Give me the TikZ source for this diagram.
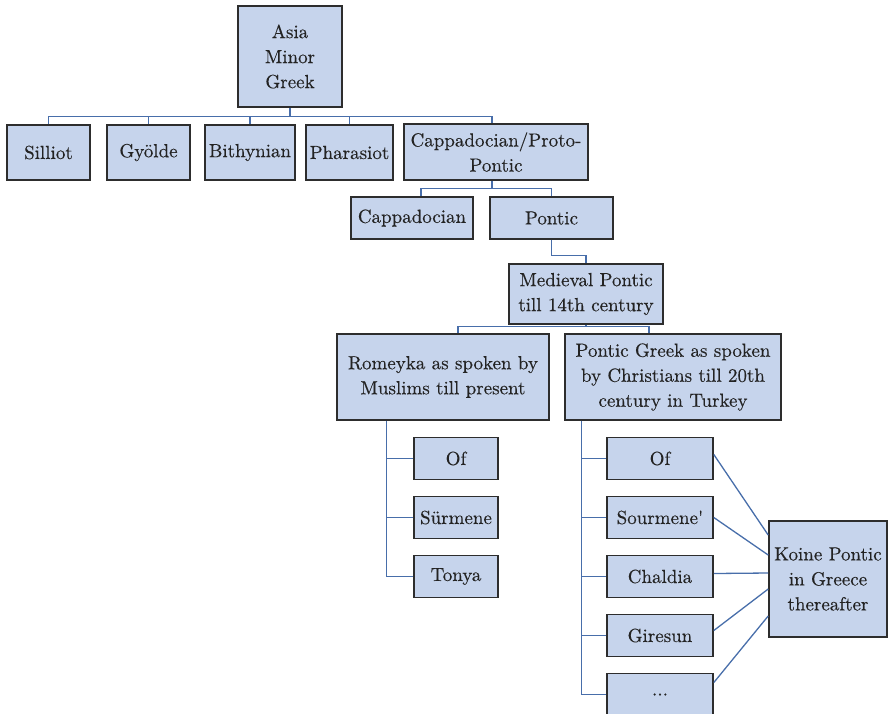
\documentclass[tikz,border=0pt]{standalone}
\usepackage{fontspec}
\newfontfamily\nodefont[FakeBold=0.3]{lmroman10-regular.otf}
\usetikzlibrary{calc}
\definecolor{boxfill}{RGB}{198,212,236}
\definecolor{boxline}{RGB}{45,45,45}
\definecolor{conn}{RGB}{72,110,170}
\definecolor{txt}{RGB}{35,35,35}
\begin{document}
\begin{tikzpicture}[x=1pt,y=-1pt,
  bx/.style={draw=boxline,line width=1.6pt,fill=boxfill,inner sep=0pt,align=center,
    text=txt,font=\nodefont\fontsize{19}{25}\selectfont},
  ln/.style={draw=conn,line width=1.3pt}]
\useasboundingbox (0,0) rectangle (891,713);
% level 0
\node[bx,minimum width=104,minimum height=101] (asia) at (290,56.5) {Asia\\Minor\\Greek};
% level 1
\node[bx,minimum width=83,minimum height=55] (silliot) at (48.5,152.5) {Silliot};
\node[bx,minimum width=83,minimum height=55] (gyolde) at (148.5,152.5) {Gyölde};
\node[bx,minimum width=90,minimum height=55] (bith) at (250,152.5) {Bithynian};
\node[bx,minimum width=87,minimum height=55] (phar) at (349.5,152.5) {Pharasiot};
\node[bx,minimum width=184,minimum height=56] (capp) at (496,152) {Cappadocian/Proto-\\Pontic};
% level 2
\node[bx,minimum width=122,minimum height=42] (cappad) at (412,218) {Cappadocian};
\node[bx,minimum width=123,minimum height=42] (pontic) at (551.5,218) {Pontic};
% level 3
\node[bx,minimum width=154,minimum height=60] (med) at (586,294) {Medieval Pontic\\till 14th century};
% level 4
\node[bx,minimum width=212,minimum height=86] (rom) at (443,377) {Romeyka as spoken by\\Muslims till present};
\node[bx,minimum width=216,minimum height=86] (pgr) at (673,377) {Pontic Greek as spoken\\by Christians till 20th\\century in Turkey};
% level 5 left
\node[bx,minimum width=84,minimum height=42] (ofa) at (456,458.5) {Of};
\node[bx,minimum width=84,minimum height=42] (sur) at (456,517.5) {Sürmene};
\node[bx,minimum width=84,minimum height=42] (ton) at (456,576.5) {Tonya};
% level 5 right
\node[bx,minimum width=106,minimum height=42] (ofb) at (660,458.5) {Of};
\node[bx,minimum width=106,minimum height=42] (sour) at (660,517.5) {Sourmene\char39};
\node[bx,minimum width=106,minimum height=42] (chal) at (660,576.5) {Chaldia};
\node[bx,minimum width=106,minimum height=42] (gir) at (660,635.5) {Giresun};
\node[bx,minimum width=106,minimum height=42] (dots) at (660,694.5) {...};
\node[bx,minimum width=118,minimum height=116] (koine) at (828,579) {Koine Pontic\\in Greece\\thereafter};
% connectors
\foreach \c in {silliot,gyolde,bith,phar}
  \draw[ln] (asia.south) -- ++(0,9) -| (\c.north);
\draw[ln] (asia.south) -- ++(0,9) -| ($(capp.north)+(-4,0)$);
\draw[ln] ($(capp.south)+(-4,0)$) -- ++(0,8) -| ($(cappad.north)+(9,0)$);
\draw[ln] ($(capp.south)+(-4,0)$) -- ++(0,8) -| (pontic.north);
\draw[ln] (pontic.south) -- ++(0,16) -| (med.north);
\draw[ln] (med.south) -- ++(0,2) -| ($(rom.north)+(15,0)$);
\draw[ln] (med.south) -- ++(0,2) -| ($(pgr.north)+(-24,0)$);
\foreach \c in {ofa,sur,ton}
  \draw[ln] ($(rom.south west)+(50,0)$) |- (\c.west);
\foreach \c in {ofb,sour,chal,gir,dots}
  \draw[ln] ($(pgr.south west)+(17,0)$) |- (\c.west);
\draw[ln] ($(ofb.east)+(0,-4)$) -- ($(koine.west)+(0,-44)$);
\draw[ln] (sour.east) -- ($(koine.west)+(0,-24)$);
\draw[ln] ($(chal.east)+(0,-3)$) -- ($(koine.west)+(0,-6)$);
\draw[ln] ($(gir.east)+(0,-5)$) -- ($(koine.west)+(0,10)$);
\draw[ln] ($(dots.east)+(0,-12)$) -- ($(koine.west)+(0,37)$);
\end{tikzpicture}
\end{document}
